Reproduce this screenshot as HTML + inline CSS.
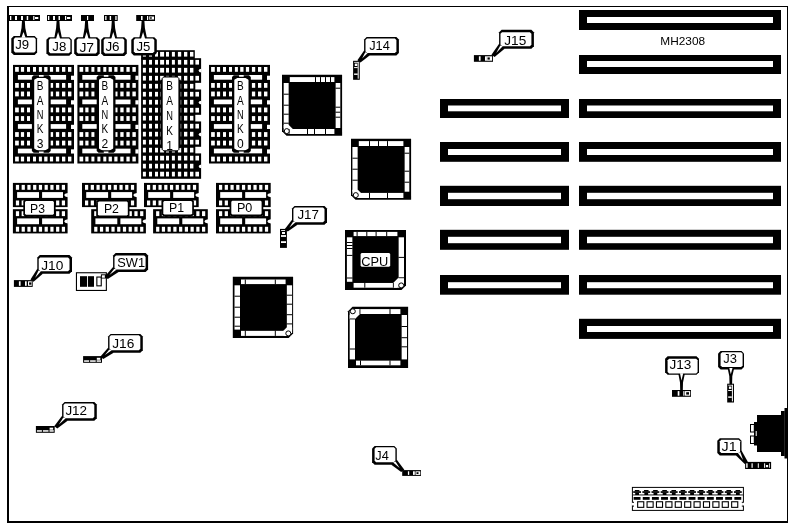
<!DOCTYPE html>
<html lang="en">
<head>
<meta charset="utf-8">
<title>MH2308 motherboard layout</title>
<style>
html,body{margin:0;padding:0;background:#fff;}
body{width:793px;height:527px;overflow:hidden;}
svg{display:block;will-change:transform;}
svg text{font-family:"Liberation Sans",sans-serif;fill:#000;}
</style>
</head>
<body>
<svg width="793" height="527" viewBox="0 0 793 527">
<rect x="0" y="0" width="793" height="527" fill="#fff"/>
<rect x="7" y="6" width="2" height="517" fill="#000"/>
<rect x="7" y="6" width="781" height="1" fill="#000"/>
<rect x="787" y="6" width="1" height="517" fill="#000"/>
<rect x="7" y="521" width="781" height="2" fill="#000"/>
<rect x="579" y="10" width="202" height="20" fill="#000"/>
<rect x="587" y="17" width="186" height="6" fill="#fff"/>
<rect x="579" y="55" width="202" height="19" fill="#000"/>
<rect x="587" y="61" width="186" height="6" fill="#fff"/>
<rect x="579" y="99" width="202" height="19" fill="#000"/>
<rect x="587" y="105.5" width="186" height="5.8" fill="#fff"/>
<rect x="579" y="142" width="202" height="19.8" fill="#000"/>
<rect x="587" y="149" width="186" height="6" fill="#fff"/>
<rect x="579" y="185.8" width="202" height="20.2" fill="#000"/>
<rect x="587" y="192.8" width="186" height="6.4" fill="#fff"/>
<rect x="579" y="229.8" width="202" height="20" fill="#000"/>
<rect x="587" y="236.8" width="186" height="6.4" fill="#fff"/>
<rect x="579" y="275" width="202" height="19.7" fill="#000"/>
<rect x="587" y="282.2" width="186" height="6" fill="#fff"/>
<rect x="579" y="318.8" width="202" height="20.1" fill="#000"/>
<rect x="587" y="326" width="186" height="6" fill="#fff"/>
<rect x="440" y="99" width="129" height="19" fill="#000"/>
<rect x="448" y="105.5" width="113" height="5.8" fill="#fff"/>
<rect x="440" y="142" width="129" height="19.8" fill="#000"/>
<rect x="448" y="149" width="113" height="6" fill="#fff"/>
<rect x="440" y="185.8" width="129" height="20.2" fill="#000"/>
<rect x="448" y="192.8" width="113" height="6.4" fill="#fff"/>
<rect x="440" y="229.8" width="129" height="20" fill="#000"/>
<rect x="448" y="236.8" width="113" height="6.4" fill="#fff"/>
<rect x="440" y="275" width="129" height="19.7" fill="#000"/>
<rect x="448" y="282.2" width="113" height="6" fill="#fff"/>
<rect x="9" y="15" width="31" height="6" fill="#000"/>
<rect x="10" y="16" width="1.3" height="4" fill="#fff"/>
<rect x="15" y="16" width="2" height="4" fill="#fff"/>
<rect x="21" y="16" width="2" height="4" fill="#fff"/>
<rect x="26.7" y="16" width="1.5" height="4" fill="#fff"/>
<rect x="33.2" y="16" width="1.2" height="4" fill="#fff"/>
<rect x="35" y="17" width="3.3" height="2" fill="#fff"/>
<polygon points="13.8,36 34.6,36 37.1,38.5 37.1,52.5 34.6,55 13.8,55 11.3,52.5 11.3,38.5" fill="#000"/>
<polygon points="15.3,37.4 34.2,37.4 35.7,38.9 35.7,51 34.2,52.5 15.3,52.5 13.8,51 13.8,38.9" fill="#fff"/>
<text x="15.3" y="48.9" font-size="13.5" textLength="13.9" lengthAdjust="spacingAndGlyphs">J9</text>
<polygon points="22,21 24.8,21 25.3,28 27.3,36.9 19.7,36.9 21.5,28" fill="#000"/>
<polygon points="23.5,32 25.6,37.7 21.4,37.7" fill="#fff"/>
<rect x="47" y="15" width="25" height="6" fill="#000"/>
<rect x="48" y="16" width="1.3" height="4" fill="#fff"/>
<rect x="53" y="16" width="2" height="4" fill="#fff"/>
<rect x="58.5" y="16" width="1.5" height="4" fill="#fff"/>
<rect x="65" y="16" width="1.2" height="4" fill="#fff"/>
<rect x="67" y="17" width="3.3" height="2" fill="#fff"/>
<polygon points="48.9,37.2 69.3,37.2 71.8,39.7 71.8,53.3 69.3,55.8 48.9,55.8 46.4,53.3 46.4,39.7" fill="#000"/>
<polygon points="50.4,38.6 68.9,38.6 70.4,40.1 70.4,51.8 68.9,53.3 50.4,53.3 48.9,51.8 48.9,40.1" fill="#fff"/>
<text x="52.3" y="50.9" font-size="13.5" textLength="14" lengthAdjust="spacingAndGlyphs">J8</text>
<polygon points="56.6,21 59.4,21 59.9,28 61.9,38.1 54.3,38.1 56.1,28" fill="#000"/>
<polygon points="58.1,32 60.2,38.9 56,38.9" fill="#fff"/>
<rect x="81" y="15" width="13" height="6" fill="#000"/>
<rect x="87" y="16" width="1.2" height="4" fill="#fff"/>
<polygon points="76.7,37.2 97.2,37.2 99.7,39.7 99.7,53.5 97.2,56 76.7,56 74.2,53.5 74.2,39.7" fill="#000"/>
<polygon points="78.2,38.6 95.7,38.6 97.2,40.1 97.2,52 95.7,53.5 78.2,53.5 76.7,52 76.7,40.1" fill="#fff"/>
<text x="79.4" y="51.8" font-size="13.5" textLength="14.7" lengthAdjust="spacingAndGlyphs">J7</text>
<polygon points="85.1,21 87.9,21 88.4,28 90.4,38.1 82.8,38.1 84.6,28" fill="#000"/>
<polygon points="86.6,32 88.7,38.9 84.5,38.9" fill="#fff"/>
<rect x="104" y="15" width="13.7" height="6" fill="#000"/>
<rect x="105.2" y="16" width="1.3" height="4" fill="#fff"/>
<rect x="109.7" y="16" width="1.4" height="4" fill="#fff"/>
<rect x="115.3" y="16" width="1.3" height="4" fill="#fff"/>
<polygon points="103.7,37.2 124.3,37.2 126.8,39.7 126.8,53.5 124.3,56 103.7,56 101.2,53.5 101.2,39.7" fill="#000"/>
<polygon points="105.2,38.6 122.8,38.6 124.3,40.1 124.3,52 122.8,53.5 105.2,53.5 103.7,52 103.7,40.1" fill="#fff"/>
<text x="105.4" y="51" font-size="13.5" textLength="14.2" lengthAdjust="spacingAndGlyphs">J6</text>
<polygon points="111.8,21 114.6,21 115.1,28 117.1,38.1 109.5,38.1 111.3,28" fill="#000"/>
<polygon points="113.3,32 115.4,38.9 111.2,38.9" fill="#fff"/>
<rect x="136.2" y="15" width="18.8" height="6" fill="#000"/>
<rect x="141" y="16" width="1.6" height="4" fill="#fff"/>
<rect x="147" y="16" width="1.1" height="4" fill="#fff"/>
<rect x="148.9" y="16.5" width="5.1" height="3" fill="#fff"/>
<rect x="149.6" y="17.3" width="2.2" height="1.4" fill="#000"/>
<rect x="13" y="64.9" width="61" height="98.6" fill="#000"/>
<rect x="15.1" y="67" width="3.7" height="4.8" fill="#fff"/>
<rect x="20.9" y="67" width="3.2" height="4.8" fill="#fff"/>
<rect x="27" y="67" width="3" height="4.8" fill="#fff"/>
<rect x="33" y="67" width="3" height="4.8" fill="#fff"/>
<rect x="38.9" y="67" width="3" height="4.8" fill="#fff"/>
<rect x="44.2" y="67" width="3.3" height="4.8" fill="#fff"/>
<rect x="49.9" y="67" width="3.2" height="4.8" fill="#fff"/>
<rect x="55.9" y="67" width="3.3" height="4.8" fill="#fff"/>
<rect x="62" y="67" width="3.3" height="4.8" fill="#fff"/>
<rect x="68" y="67" width="3.4" height="4.8" fill="#fff"/>
<rect x="15.1" y="83" width="3.7" height="4.8" fill="#fff"/>
<rect x="20.9" y="83" width="3.2" height="4.8" fill="#fff"/>
<rect x="27" y="83" width="3" height="4.8" fill="#fff"/>
<rect x="33" y="83" width="3" height="4.8" fill="#fff"/>
<rect x="38.9" y="83" width="3" height="4.8" fill="#fff"/>
<rect x="44.2" y="83" width="3.3" height="4.8" fill="#fff"/>
<rect x="49.9" y="83" width="3.2" height="4.8" fill="#fff"/>
<rect x="55.9" y="83" width="3.3" height="4.8" fill="#fff"/>
<rect x="62" y="83" width="3.3" height="4.8" fill="#fff"/>
<rect x="68" y="83" width="3.4" height="4.8" fill="#fff"/>
<rect x="17.9" y="75" width="48.2" height="4.7" fill="#fff"/>
<rect x="71" y="75.7" width="3.2" height="4.2" fill="#fff"/>
<rect x="15.1" y="91.55" width="3.7" height="4.8" fill="#fff"/>
<rect x="20.9" y="91.55" width="3.2" height="4.8" fill="#fff"/>
<rect x="27" y="91.55" width="3" height="4.8" fill="#fff"/>
<rect x="33" y="91.55" width="3" height="4.8" fill="#fff"/>
<rect x="38.9" y="91.55" width="3" height="4.8" fill="#fff"/>
<rect x="44.2" y="91.55" width="3.3" height="4.8" fill="#fff"/>
<rect x="49.9" y="91.55" width="3.2" height="4.8" fill="#fff"/>
<rect x="55.9" y="91.55" width="3.3" height="4.8" fill="#fff"/>
<rect x="62" y="91.55" width="3.3" height="4.8" fill="#fff"/>
<rect x="68" y="91.55" width="3.4" height="4.8" fill="#fff"/>
<rect x="15.1" y="107.55" width="3.7" height="4.8" fill="#fff"/>
<rect x="20.9" y="107.55" width="3.2" height="4.8" fill="#fff"/>
<rect x="27" y="107.55" width="3" height="4.8" fill="#fff"/>
<rect x="33" y="107.55" width="3" height="4.8" fill="#fff"/>
<rect x="38.9" y="107.55" width="3" height="4.8" fill="#fff"/>
<rect x="44.2" y="107.55" width="3.3" height="4.8" fill="#fff"/>
<rect x="49.9" y="107.55" width="3.2" height="4.8" fill="#fff"/>
<rect x="55.9" y="107.55" width="3.3" height="4.8" fill="#fff"/>
<rect x="62" y="107.55" width="3.3" height="4.8" fill="#fff"/>
<rect x="68" y="107.55" width="3.4" height="4.8" fill="#fff"/>
<rect x="17.9" y="99.55" width="48.2" height="4.7" fill="#fff"/>
<rect x="71" y="100.25" width="3.2" height="4.2" fill="#fff"/>
<rect x="15.1" y="116.1" width="3.7" height="4.8" fill="#fff"/>
<rect x="20.9" y="116.1" width="3.2" height="4.8" fill="#fff"/>
<rect x="27" y="116.1" width="3" height="4.8" fill="#fff"/>
<rect x="33" y="116.1" width="3" height="4.8" fill="#fff"/>
<rect x="38.9" y="116.1" width="3" height="4.8" fill="#fff"/>
<rect x="44.2" y="116.1" width="3.3" height="4.8" fill="#fff"/>
<rect x="49.9" y="116.1" width="3.2" height="4.8" fill="#fff"/>
<rect x="55.9" y="116.1" width="3.3" height="4.8" fill="#fff"/>
<rect x="62" y="116.1" width="3.3" height="4.8" fill="#fff"/>
<rect x="68" y="116.1" width="3.4" height="4.8" fill="#fff"/>
<rect x="15.1" y="132.1" width="3.7" height="4.8" fill="#fff"/>
<rect x="20.9" y="132.1" width="3.2" height="4.8" fill="#fff"/>
<rect x="27" y="132.1" width="3" height="4.8" fill="#fff"/>
<rect x="33" y="132.1" width="3" height="4.8" fill="#fff"/>
<rect x="38.9" y="132.1" width="3" height="4.8" fill="#fff"/>
<rect x="44.2" y="132.1" width="3.3" height="4.8" fill="#fff"/>
<rect x="49.9" y="132.1" width="3.2" height="4.8" fill="#fff"/>
<rect x="55.9" y="132.1" width="3.3" height="4.8" fill="#fff"/>
<rect x="62" y="132.1" width="3.3" height="4.8" fill="#fff"/>
<rect x="68" y="132.1" width="3.4" height="4.8" fill="#fff"/>
<rect x="17.9" y="124.1" width="48.2" height="4.7" fill="#fff"/>
<rect x="71" y="124.8" width="3.2" height="4.2" fill="#fff"/>
<rect x="15.1" y="140.65" width="3.7" height="4.8" fill="#fff"/>
<rect x="20.9" y="140.65" width="3.2" height="4.8" fill="#fff"/>
<rect x="27" y="140.65" width="3" height="4.8" fill="#fff"/>
<rect x="33" y="140.65" width="3" height="4.8" fill="#fff"/>
<rect x="38.9" y="140.65" width="3" height="4.8" fill="#fff"/>
<rect x="44.2" y="140.65" width="3.3" height="4.8" fill="#fff"/>
<rect x="49.9" y="140.65" width="3.2" height="4.8" fill="#fff"/>
<rect x="55.9" y="140.65" width="3.3" height="4.8" fill="#fff"/>
<rect x="62" y="140.65" width="3.3" height="4.8" fill="#fff"/>
<rect x="68" y="140.65" width="3.4" height="4.8" fill="#fff"/>
<rect x="15.1" y="156.65" width="3.7" height="4.8" fill="#fff"/>
<rect x="20.9" y="156.65" width="3.2" height="4.8" fill="#fff"/>
<rect x="27" y="156.65" width="3" height="4.8" fill="#fff"/>
<rect x="33" y="156.65" width="3" height="4.8" fill="#fff"/>
<rect x="38.9" y="156.65" width="3" height="4.8" fill="#fff"/>
<rect x="44.2" y="156.65" width="3.3" height="4.8" fill="#fff"/>
<rect x="49.9" y="156.65" width="3.2" height="4.8" fill="#fff"/>
<rect x="55.9" y="156.65" width="3.3" height="4.8" fill="#fff"/>
<rect x="62" y="156.65" width="3.3" height="4.8" fill="#fff"/>
<rect x="68" y="156.65" width="3.4" height="4.8" fill="#fff"/>
<rect x="17.9" y="148.65" width="48.2" height="4.7" fill="#fff"/>
<rect x="71" y="149.35" width="3.2" height="4.2" fill="#fff"/>
<rect x="31.9" y="80.1" width="18.8" height="67.9" fill="#000"/>
<polygon points="35.4,76.7 47.2,76.7 49.4,78.9 49.4,149.2 47.2,151.4 35.4,151.4 33.2,149.2 33.2,78.9" fill="#000"/>
<polygon points="35.2,77.9 47.4,77.9 48.4,78.9 48.4,149.2 47.4,150.2 35.2,150.2 34.2,149.2 34.2,78.9" fill="#fff"/>
<text x="36.8" y="90.2" font-size="12.7" textLength="6.7" lengthAdjust="spacingAndGlyphs">B</text>
<text x="36.8" y="104.6" font-size="12.7" textLength="6.7" lengthAdjust="spacingAndGlyphs">A</text>
<text x="36.8" y="119" font-size="12.7" textLength="6.7" lengthAdjust="spacingAndGlyphs">N</text>
<text x="36.8" y="133.4" font-size="12.7" textLength="6.7" lengthAdjust="spacingAndGlyphs">K</text>
<text x="36.8" y="147.8" font-size="12.7" textLength="6.7" lengthAdjust="spacingAndGlyphs">3</text>
<polygon points="31.9,80.9 31.9,77.1 33.7,75.3 39,75.3 39,76.9" fill="#000"/>
<polygon points="50.7,80.9 50.7,77.1 48.9,75.3 43.6,75.3 43.6,76.9" fill="#000"/>
<polygon points="31.9,147.2 31.9,151 33.7,152.8 39,152.8 39,151.2" fill="#000"/>
<polygon points="50.7,147.2 50.7,151 48.9,152.8 43.6,152.8 43.6,151.2" fill="#000"/>
<rect x="77.4" y="64.9" width="61" height="98.6" fill="#000"/>
<rect x="79.5" y="67" width="3.7" height="4.8" fill="#fff"/>
<rect x="85.3" y="67" width="3.2" height="4.8" fill="#fff"/>
<rect x="91.4" y="67" width="3" height="4.8" fill="#fff"/>
<rect x="97.4" y="67" width="3" height="4.8" fill="#fff"/>
<rect x="103.3" y="67" width="3" height="4.8" fill="#fff"/>
<rect x="108.6" y="67" width="3.3" height="4.8" fill="#fff"/>
<rect x="114.3" y="67" width="3.2" height="4.8" fill="#fff"/>
<rect x="120.3" y="67" width="3.3" height="4.8" fill="#fff"/>
<rect x="126.4" y="67" width="3.3" height="4.8" fill="#fff"/>
<rect x="132.4" y="67" width="3.4" height="4.8" fill="#fff"/>
<rect x="79.5" y="83" width="3.7" height="4.8" fill="#fff"/>
<rect x="85.3" y="83" width="3.2" height="4.8" fill="#fff"/>
<rect x="91.4" y="83" width="3" height="4.8" fill="#fff"/>
<rect x="97.4" y="83" width="3" height="4.8" fill="#fff"/>
<rect x="103.3" y="83" width="3" height="4.8" fill="#fff"/>
<rect x="108.6" y="83" width="3.3" height="4.8" fill="#fff"/>
<rect x="114.3" y="83" width="3.2" height="4.8" fill="#fff"/>
<rect x="120.3" y="83" width="3.3" height="4.8" fill="#fff"/>
<rect x="126.4" y="83" width="3.3" height="4.8" fill="#fff"/>
<rect x="132.4" y="83" width="3.4" height="4.8" fill="#fff"/>
<rect x="82.3" y="75" width="48.2" height="4.7" fill="#fff"/>
<rect x="135.4" y="75.7" width="3.2" height="4.2" fill="#fff"/>
<rect x="79.5" y="91.55" width="3.7" height="4.8" fill="#fff"/>
<rect x="85.3" y="91.55" width="3.2" height="4.8" fill="#fff"/>
<rect x="91.4" y="91.55" width="3" height="4.8" fill="#fff"/>
<rect x="97.4" y="91.55" width="3" height="4.8" fill="#fff"/>
<rect x="103.3" y="91.55" width="3" height="4.8" fill="#fff"/>
<rect x="108.6" y="91.55" width="3.3" height="4.8" fill="#fff"/>
<rect x="114.3" y="91.55" width="3.2" height="4.8" fill="#fff"/>
<rect x="120.3" y="91.55" width="3.3" height="4.8" fill="#fff"/>
<rect x="126.4" y="91.55" width="3.3" height="4.8" fill="#fff"/>
<rect x="132.4" y="91.55" width="3.4" height="4.8" fill="#fff"/>
<rect x="79.5" y="107.55" width="3.7" height="4.8" fill="#fff"/>
<rect x="85.3" y="107.55" width="3.2" height="4.8" fill="#fff"/>
<rect x="91.4" y="107.55" width="3" height="4.8" fill="#fff"/>
<rect x="97.4" y="107.55" width="3" height="4.8" fill="#fff"/>
<rect x="103.3" y="107.55" width="3" height="4.8" fill="#fff"/>
<rect x="108.6" y="107.55" width="3.3" height="4.8" fill="#fff"/>
<rect x="114.3" y="107.55" width="3.2" height="4.8" fill="#fff"/>
<rect x="120.3" y="107.55" width="3.3" height="4.8" fill="#fff"/>
<rect x="126.4" y="107.55" width="3.3" height="4.8" fill="#fff"/>
<rect x="132.4" y="107.55" width="3.4" height="4.8" fill="#fff"/>
<rect x="82.3" y="99.55" width="48.2" height="4.7" fill="#fff"/>
<rect x="135.4" y="100.25" width="3.2" height="4.2" fill="#fff"/>
<rect x="79.5" y="116.1" width="3.7" height="4.8" fill="#fff"/>
<rect x="85.3" y="116.1" width="3.2" height="4.8" fill="#fff"/>
<rect x="91.4" y="116.1" width="3" height="4.8" fill="#fff"/>
<rect x="97.4" y="116.1" width="3" height="4.8" fill="#fff"/>
<rect x="103.3" y="116.1" width="3" height="4.8" fill="#fff"/>
<rect x="108.6" y="116.1" width="3.3" height="4.8" fill="#fff"/>
<rect x="114.3" y="116.1" width="3.2" height="4.8" fill="#fff"/>
<rect x="120.3" y="116.1" width="3.3" height="4.8" fill="#fff"/>
<rect x="126.4" y="116.1" width="3.3" height="4.8" fill="#fff"/>
<rect x="132.4" y="116.1" width="3.4" height="4.8" fill="#fff"/>
<rect x="79.5" y="132.1" width="3.7" height="4.8" fill="#fff"/>
<rect x="85.3" y="132.1" width="3.2" height="4.8" fill="#fff"/>
<rect x="91.4" y="132.1" width="3" height="4.8" fill="#fff"/>
<rect x="97.4" y="132.1" width="3" height="4.8" fill="#fff"/>
<rect x="103.3" y="132.1" width="3" height="4.8" fill="#fff"/>
<rect x="108.6" y="132.1" width="3.3" height="4.8" fill="#fff"/>
<rect x="114.3" y="132.1" width="3.2" height="4.8" fill="#fff"/>
<rect x="120.3" y="132.1" width="3.3" height="4.8" fill="#fff"/>
<rect x="126.4" y="132.1" width="3.3" height="4.8" fill="#fff"/>
<rect x="132.4" y="132.1" width="3.4" height="4.8" fill="#fff"/>
<rect x="82.3" y="124.1" width="48.2" height="4.7" fill="#fff"/>
<rect x="135.4" y="124.8" width="3.2" height="4.2" fill="#fff"/>
<rect x="79.5" y="140.65" width="3.7" height="4.8" fill="#fff"/>
<rect x="85.3" y="140.65" width="3.2" height="4.8" fill="#fff"/>
<rect x="91.4" y="140.65" width="3" height="4.8" fill="#fff"/>
<rect x="97.4" y="140.65" width="3" height="4.8" fill="#fff"/>
<rect x="103.3" y="140.65" width="3" height="4.8" fill="#fff"/>
<rect x="108.6" y="140.65" width="3.3" height="4.8" fill="#fff"/>
<rect x="114.3" y="140.65" width="3.2" height="4.8" fill="#fff"/>
<rect x="120.3" y="140.65" width="3.3" height="4.8" fill="#fff"/>
<rect x="126.4" y="140.65" width="3.3" height="4.8" fill="#fff"/>
<rect x="132.4" y="140.65" width="3.4" height="4.8" fill="#fff"/>
<rect x="79.5" y="156.65" width="3.7" height="4.8" fill="#fff"/>
<rect x="85.3" y="156.65" width="3.2" height="4.8" fill="#fff"/>
<rect x="91.4" y="156.65" width="3" height="4.8" fill="#fff"/>
<rect x="97.4" y="156.65" width="3" height="4.8" fill="#fff"/>
<rect x="103.3" y="156.65" width="3" height="4.8" fill="#fff"/>
<rect x="108.6" y="156.65" width="3.3" height="4.8" fill="#fff"/>
<rect x="114.3" y="156.65" width="3.2" height="4.8" fill="#fff"/>
<rect x="120.3" y="156.65" width="3.3" height="4.8" fill="#fff"/>
<rect x="126.4" y="156.65" width="3.3" height="4.8" fill="#fff"/>
<rect x="132.4" y="156.65" width="3.4" height="4.8" fill="#fff"/>
<rect x="82.3" y="148.65" width="48.2" height="4.7" fill="#fff"/>
<rect x="135.4" y="149.35" width="3.2" height="4.2" fill="#fff"/>
<rect x="96.7" y="80.1" width="18.8" height="67.9" fill="#000"/>
<polygon points="100.2,76.7 112,76.7 114.2,78.9 114.2,149.2 112,151.4 100.2,151.4 98,149.2 98,78.9" fill="#000"/>
<polygon points="100,77.9 112.2,77.9 113.2,78.9 113.2,149.2 112.2,150.2 100,150.2 99,149.2 99,78.9" fill="#fff"/>
<text x="101.6" y="90.2" font-size="12.7" textLength="6.7" lengthAdjust="spacingAndGlyphs">B</text>
<text x="101.6" y="104.6" font-size="12.7" textLength="6.7" lengthAdjust="spacingAndGlyphs">A</text>
<text x="101.6" y="119" font-size="12.7" textLength="6.7" lengthAdjust="spacingAndGlyphs">N</text>
<text x="101.6" y="133.4" font-size="12.7" textLength="6.7" lengthAdjust="spacingAndGlyphs">K</text>
<text x="101.6" y="147.8" font-size="12.7" textLength="6.7" lengthAdjust="spacingAndGlyphs">2</text>
<polygon points="96.7,80.9 96.7,77.1 98.5,75.3 103.8,75.3 103.8,76.9" fill="#000"/>
<polygon points="115.5,80.9 115.5,77.1 113.7,75.3 108.4,75.3 108.4,76.9" fill="#000"/>
<polygon points="96.7,147.2 96.7,151 98.5,152.8 103.8,152.8 103.8,151.2" fill="#000"/>
<polygon points="115.5,147.2 115.5,151 113.7,152.8 108.4,152.8 108.4,151.2" fill="#000"/>
<rect x="209" y="64.9" width="61" height="98.6" fill="#000"/>
<rect x="211.1" y="67" width="3.7" height="4.8" fill="#fff"/>
<rect x="216.9" y="67" width="3.2" height="4.8" fill="#fff"/>
<rect x="223" y="67" width="3" height="4.8" fill="#fff"/>
<rect x="229" y="67" width="3" height="4.8" fill="#fff"/>
<rect x="234.9" y="67" width="3" height="4.8" fill="#fff"/>
<rect x="240.2" y="67" width="3.3" height="4.8" fill="#fff"/>
<rect x="245.9" y="67" width="3.2" height="4.8" fill="#fff"/>
<rect x="251.9" y="67" width="3.3" height="4.8" fill="#fff"/>
<rect x="258" y="67" width="3.3" height="4.8" fill="#fff"/>
<rect x="264" y="67" width="3.4" height="4.8" fill="#fff"/>
<rect x="211.1" y="83" width="3.7" height="4.8" fill="#fff"/>
<rect x="216.9" y="83" width="3.2" height="4.8" fill="#fff"/>
<rect x="223" y="83" width="3" height="4.8" fill="#fff"/>
<rect x="229" y="83" width="3" height="4.8" fill="#fff"/>
<rect x="234.9" y="83" width="3" height="4.8" fill="#fff"/>
<rect x="240.2" y="83" width="3.3" height="4.8" fill="#fff"/>
<rect x="245.9" y="83" width="3.2" height="4.8" fill="#fff"/>
<rect x="251.9" y="83" width="3.3" height="4.8" fill="#fff"/>
<rect x="258" y="83" width="3.3" height="4.8" fill="#fff"/>
<rect x="264" y="83" width="3.4" height="4.8" fill="#fff"/>
<rect x="213.9" y="75" width="48.2" height="4.7" fill="#fff"/>
<rect x="267" y="75.7" width="3.2" height="4.2" fill="#fff"/>
<rect x="211.1" y="91.55" width="3.7" height="4.8" fill="#fff"/>
<rect x="216.9" y="91.55" width="3.2" height="4.8" fill="#fff"/>
<rect x="223" y="91.55" width="3" height="4.8" fill="#fff"/>
<rect x="229" y="91.55" width="3" height="4.8" fill="#fff"/>
<rect x="234.9" y="91.55" width="3" height="4.8" fill="#fff"/>
<rect x="240.2" y="91.55" width="3.3" height="4.8" fill="#fff"/>
<rect x="245.9" y="91.55" width="3.2" height="4.8" fill="#fff"/>
<rect x="251.9" y="91.55" width="3.3" height="4.8" fill="#fff"/>
<rect x="258" y="91.55" width="3.3" height="4.8" fill="#fff"/>
<rect x="264" y="91.55" width="3.4" height="4.8" fill="#fff"/>
<rect x="211.1" y="107.55" width="3.7" height="4.8" fill="#fff"/>
<rect x="216.9" y="107.55" width="3.2" height="4.8" fill="#fff"/>
<rect x="223" y="107.55" width="3" height="4.8" fill="#fff"/>
<rect x="229" y="107.55" width="3" height="4.8" fill="#fff"/>
<rect x="234.9" y="107.55" width="3" height="4.8" fill="#fff"/>
<rect x="240.2" y="107.55" width="3.3" height="4.8" fill="#fff"/>
<rect x="245.9" y="107.55" width="3.2" height="4.8" fill="#fff"/>
<rect x="251.9" y="107.55" width="3.3" height="4.8" fill="#fff"/>
<rect x="258" y="107.55" width="3.3" height="4.8" fill="#fff"/>
<rect x="264" y="107.55" width="3.4" height="4.8" fill="#fff"/>
<rect x="213.9" y="99.55" width="48.2" height="4.7" fill="#fff"/>
<rect x="267" y="100.25" width="3.2" height="4.2" fill="#fff"/>
<rect x="211.1" y="116.1" width="3.7" height="4.8" fill="#fff"/>
<rect x="216.9" y="116.1" width="3.2" height="4.8" fill="#fff"/>
<rect x="223" y="116.1" width="3" height="4.8" fill="#fff"/>
<rect x="229" y="116.1" width="3" height="4.8" fill="#fff"/>
<rect x="234.9" y="116.1" width="3" height="4.8" fill="#fff"/>
<rect x="240.2" y="116.1" width="3.3" height="4.8" fill="#fff"/>
<rect x="245.9" y="116.1" width="3.2" height="4.8" fill="#fff"/>
<rect x="251.9" y="116.1" width="3.3" height="4.8" fill="#fff"/>
<rect x="258" y="116.1" width="3.3" height="4.8" fill="#fff"/>
<rect x="264" y="116.1" width="3.4" height="4.8" fill="#fff"/>
<rect x="211.1" y="132.1" width="3.7" height="4.8" fill="#fff"/>
<rect x="216.9" y="132.1" width="3.2" height="4.8" fill="#fff"/>
<rect x="223" y="132.1" width="3" height="4.8" fill="#fff"/>
<rect x="229" y="132.1" width="3" height="4.8" fill="#fff"/>
<rect x="234.9" y="132.1" width="3" height="4.8" fill="#fff"/>
<rect x="240.2" y="132.1" width="3.3" height="4.8" fill="#fff"/>
<rect x="245.9" y="132.1" width="3.2" height="4.8" fill="#fff"/>
<rect x="251.9" y="132.1" width="3.3" height="4.8" fill="#fff"/>
<rect x="258" y="132.1" width="3.3" height="4.8" fill="#fff"/>
<rect x="264" y="132.1" width="3.4" height="4.8" fill="#fff"/>
<rect x="213.9" y="124.1" width="48.2" height="4.7" fill="#fff"/>
<rect x="267" y="124.8" width="3.2" height="4.2" fill="#fff"/>
<rect x="211.1" y="140.65" width="3.7" height="4.8" fill="#fff"/>
<rect x="216.9" y="140.65" width="3.2" height="4.8" fill="#fff"/>
<rect x="223" y="140.65" width="3" height="4.8" fill="#fff"/>
<rect x="229" y="140.65" width="3" height="4.8" fill="#fff"/>
<rect x="234.9" y="140.65" width="3" height="4.8" fill="#fff"/>
<rect x="240.2" y="140.65" width="3.3" height="4.8" fill="#fff"/>
<rect x="245.9" y="140.65" width="3.2" height="4.8" fill="#fff"/>
<rect x="251.9" y="140.65" width="3.3" height="4.8" fill="#fff"/>
<rect x="258" y="140.65" width="3.3" height="4.8" fill="#fff"/>
<rect x="264" y="140.65" width="3.4" height="4.8" fill="#fff"/>
<rect x="211.1" y="156.65" width="3.7" height="4.8" fill="#fff"/>
<rect x="216.9" y="156.65" width="3.2" height="4.8" fill="#fff"/>
<rect x="223" y="156.65" width="3" height="4.8" fill="#fff"/>
<rect x="229" y="156.65" width="3" height="4.8" fill="#fff"/>
<rect x="234.9" y="156.65" width="3" height="4.8" fill="#fff"/>
<rect x="240.2" y="156.65" width="3.3" height="4.8" fill="#fff"/>
<rect x="245.9" y="156.65" width="3.2" height="4.8" fill="#fff"/>
<rect x="251.9" y="156.65" width="3.3" height="4.8" fill="#fff"/>
<rect x="258" y="156.65" width="3.3" height="4.8" fill="#fff"/>
<rect x="264" y="156.65" width="3.4" height="4.8" fill="#fff"/>
<rect x="213.9" y="148.65" width="48.2" height="4.7" fill="#fff"/>
<rect x="267" y="149.35" width="3.2" height="4.2" fill="#fff"/>
<rect x="232" y="80.1" width="18.8" height="67.9" fill="#000"/>
<polygon points="235.5,76.7 247.3,76.7 249.5,78.9 249.5,149.2 247.3,151.4 235.5,151.4 233.3,149.2 233.3,78.9" fill="#000"/>
<polygon points="235.3,77.9 247.5,77.9 248.5,78.9 248.5,149.2 247.5,150.2 235.3,150.2 234.3,149.2 234.3,78.9" fill="#fff"/>
<text x="236.9" y="90.2" font-size="12.7" textLength="6.7" lengthAdjust="spacingAndGlyphs">B</text>
<text x="236.9" y="104.6" font-size="12.7" textLength="6.7" lengthAdjust="spacingAndGlyphs">A</text>
<text x="236.9" y="119" font-size="12.7" textLength="6.7" lengthAdjust="spacingAndGlyphs">N</text>
<text x="236.9" y="133.4" font-size="12.7" textLength="6.7" lengthAdjust="spacingAndGlyphs">K</text>
<text x="236.9" y="147.8" font-size="12.7" textLength="6.7" lengthAdjust="spacingAndGlyphs">0</text>
<polygon points="232,80.9 232,77.1 233.8,75.3 239.1,75.3 239.1,76.9" fill="#000"/>
<polygon points="250.8,80.9 250.8,77.1 249,75.3 243.7,75.3 243.7,76.9" fill="#000"/>
<polygon points="232,147.2 232,151 233.8,152.8 239.1,152.8 239.1,151.2" fill="#000"/>
<polygon points="250.8,147.2 250.8,151 249,152.8 243.7,152.8 243.7,151.2" fill="#000"/>
<rect x="141.1" y="50.2" width="53.7" height="9" fill="#000"/>
<rect x="141.1" y="58.2" width="60" height="120.6" fill="#000"/>
<rect x="142.9" y="51.9" width="3" height="4.7" fill="#fff"/>
<rect x="149" y="51.9" width="3" height="4.7" fill="#fff"/>
<rect x="155" y="51.9" width="3" height="4.7" fill="#fff"/>
<rect x="160.1" y="51.9" width="4" height="4.7" fill="#fff"/>
<rect x="166" y="51.9" width="3" height="4.7" fill="#fff"/>
<rect x="171.9" y="51.9" width="3" height="4.7" fill="#fff"/>
<rect x="177.9" y="51.9" width="3.3" height="4.7" fill="#fff"/>
<rect x="184" y="51.9" width="3.3" height="4.7" fill="#fff"/>
<rect x="190" y="51.9" width="3.4" height="4.7" fill="#fff"/>
<rect x="142.9" y="59.89" width="3" height="4.7" fill="#fff"/>
<rect x="149" y="59.89" width="3" height="4.7" fill="#fff"/>
<rect x="155" y="59.89" width="3" height="4.7" fill="#fff"/>
<rect x="160.1" y="59.89" width="4" height="4.7" fill="#fff"/>
<rect x="166" y="59.89" width="3" height="4.7" fill="#fff"/>
<rect x="171.9" y="59.89" width="3" height="4.7" fill="#fff"/>
<rect x="177.9" y="59.89" width="3.3" height="4.7" fill="#fff"/>
<rect x="184" y="59.89" width="3.3" height="4.7" fill="#fff"/>
<rect x="190" y="59.89" width="3.4" height="4.7" fill="#fff"/>
<rect x="195.4" y="59.89" width="3.6" height="4.7" fill="#fff"/>
<rect x="142.9" y="67.88" width="3" height="4.7" fill="#fff"/>
<rect x="149" y="67.88" width="3" height="4.7" fill="#fff"/>
<rect x="155" y="67.88" width="3" height="4.7" fill="#fff"/>
<rect x="160.1" y="67.88" width="4" height="4.7" fill="#fff"/>
<rect x="166" y="67.88" width="3" height="4.7" fill="#fff"/>
<rect x="171.9" y="67.88" width="3" height="4.7" fill="#fff"/>
<rect x="177.9" y="67.88" width="3.3" height="4.7" fill="#fff"/>
<rect x="184" y="67.88" width="3.3" height="4.7" fill="#fff"/>
<rect x="190" y="67.88" width="3.4" height="4.7" fill="#fff"/>
<polygon points="201.3,68.68 199.3,69.28 198.7,70.48 199.3,71.88 201.3,72.48" fill="#fff"/>
<rect x="142.9" y="75.87" width="3" height="4.7" fill="#fff"/>
<rect x="149" y="75.87" width="3" height="4.7" fill="#fff"/>
<rect x="155" y="75.87" width="3" height="4.7" fill="#fff"/>
<rect x="160.1" y="75.87" width="4" height="4.7" fill="#fff"/>
<rect x="166" y="75.87" width="3" height="4.7" fill="#fff"/>
<rect x="171.9" y="75.87" width="3" height="4.7" fill="#fff"/>
<rect x="177.9" y="75.87" width="3.3" height="4.7" fill="#fff"/>
<rect x="184" y="75.87" width="3.3" height="4.7" fill="#fff"/>
<rect x="190" y="75.87" width="3.4" height="4.7" fill="#fff"/>
<rect x="195.4" y="75.87" width="3.6" height="4.7" fill="#fff"/>
<rect x="142.9" y="83.86" width="3" height="4.7" fill="#fff"/>
<rect x="149" y="83.86" width="3" height="4.7" fill="#fff"/>
<rect x="155" y="83.86" width="3" height="4.7" fill="#fff"/>
<rect x="160.1" y="83.86" width="4" height="4.7" fill="#fff"/>
<rect x="166" y="83.86" width="3" height="4.7" fill="#fff"/>
<rect x="171.9" y="83.86" width="3" height="4.7" fill="#fff"/>
<rect x="177.9" y="83.86" width="3.3" height="4.7" fill="#fff"/>
<rect x="184" y="83.86" width="3.3" height="4.7" fill="#fff"/>
<rect x="190" y="83.86" width="3.4" height="4.7" fill="#fff"/>
<rect x="195.3" y="82.86" width="7" height="6.6" fill="#fff"/>
<rect x="142.9" y="91.85" width="3" height="4.7" fill="#fff"/>
<rect x="149" y="91.85" width="3" height="4.7" fill="#fff"/>
<rect x="155" y="91.85" width="3" height="4.7" fill="#fff"/>
<rect x="160.1" y="91.85" width="4" height="4.7" fill="#fff"/>
<rect x="166" y="91.85" width="3" height="4.7" fill="#fff"/>
<rect x="171.9" y="91.85" width="3" height="4.7" fill="#fff"/>
<rect x="177.9" y="91.85" width="3.3" height="4.7" fill="#fff"/>
<rect x="184" y="91.85" width="3.3" height="4.7" fill="#fff"/>
<rect x="190" y="91.85" width="3.4" height="4.7" fill="#fff"/>
<rect x="195.4" y="91.85" width="3.6" height="4.7" fill="#fff"/>
<rect x="142.9" y="99.84" width="3" height="4.7" fill="#fff"/>
<rect x="149" y="99.84" width="3" height="4.7" fill="#fff"/>
<rect x="155" y="99.84" width="3" height="4.7" fill="#fff"/>
<rect x="160.1" y="99.84" width="4" height="4.7" fill="#fff"/>
<rect x="166" y="99.84" width="3" height="4.7" fill="#fff"/>
<rect x="171.9" y="99.84" width="3" height="4.7" fill="#fff"/>
<rect x="177.9" y="99.84" width="3.3" height="4.7" fill="#fff"/>
<rect x="184" y="99.84" width="3.3" height="4.7" fill="#fff"/>
<rect x="190" y="99.84" width="3.4" height="4.7" fill="#fff"/>
<polygon points="201.3,100.64 199.3,101.24 198.7,102.44 199.3,103.84 201.3,104.44" fill="#fff"/>
<rect x="142.9" y="107.83" width="3" height="4.7" fill="#fff"/>
<rect x="149" y="107.83" width="3" height="4.7" fill="#fff"/>
<rect x="155" y="107.83" width="3" height="4.7" fill="#fff"/>
<rect x="160.1" y="107.83" width="4" height="4.7" fill="#fff"/>
<rect x="166" y="107.83" width="3" height="4.7" fill="#fff"/>
<rect x="171.9" y="107.83" width="3" height="4.7" fill="#fff"/>
<rect x="177.9" y="107.83" width="3.3" height="4.7" fill="#fff"/>
<rect x="184" y="107.83" width="3.3" height="4.7" fill="#fff"/>
<rect x="190" y="107.83" width="3.4" height="4.7" fill="#fff"/>
<rect x="195.4" y="107.83" width="3.6" height="4.7" fill="#fff"/>
<rect x="142.9" y="115.82" width="3" height="4.7" fill="#fff"/>
<rect x="149" y="115.82" width="3" height="4.7" fill="#fff"/>
<rect x="155" y="115.82" width="3" height="4.7" fill="#fff"/>
<rect x="160.1" y="115.82" width="4" height="4.7" fill="#fff"/>
<rect x="166" y="115.82" width="3" height="4.7" fill="#fff"/>
<rect x="171.9" y="115.82" width="3" height="4.7" fill="#fff"/>
<rect x="177.9" y="115.82" width="3.3" height="4.7" fill="#fff"/>
<rect x="184" y="115.82" width="3.3" height="4.7" fill="#fff"/>
<rect x="190" y="115.82" width="3.4" height="4.7" fill="#fff"/>
<rect x="195.3" y="114.82" width="7" height="6.6" fill="#fff"/>
<rect x="142.9" y="123.81" width="3" height="4.7" fill="#fff"/>
<rect x="149" y="123.81" width="3" height="4.7" fill="#fff"/>
<rect x="155" y="123.81" width="3" height="4.7" fill="#fff"/>
<rect x="160.1" y="123.81" width="4" height="4.7" fill="#fff"/>
<rect x="166" y="123.81" width="3" height="4.7" fill="#fff"/>
<rect x="171.9" y="123.81" width="3" height="4.7" fill="#fff"/>
<rect x="177.9" y="123.81" width="3.3" height="4.7" fill="#fff"/>
<rect x="184" y="123.81" width="3.3" height="4.7" fill="#fff"/>
<rect x="190" y="123.81" width="3.4" height="4.7" fill="#fff"/>
<rect x="195.4" y="123.81" width="3.6" height="4.7" fill="#fff"/>
<rect x="142.9" y="131.8" width="3" height="4.7" fill="#fff"/>
<rect x="149" y="131.8" width="3" height="4.7" fill="#fff"/>
<rect x="155" y="131.8" width="3" height="4.7" fill="#fff"/>
<rect x="160.1" y="131.8" width="4" height="4.7" fill="#fff"/>
<rect x="166" y="131.8" width="3" height="4.7" fill="#fff"/>
<rect x="171.9" y="131.8" width="3" height="4.7" fill="#fff"/>
<rect x="177.9" y="131.8" width="3.3" height="4.7" fill="#fff"/>
<rect x="184" y="131.8" width="3.3" height="4.7" fill="#fff"/>
<rect x="190" y="131.8" width="3.4" height="4.7" fill="#fff"/>
<polygon points="201.3,132.6 199.3,133.2 198.7,134.4 199.3,135.8 201.3,136.4" fill="#fff"/>
<rect x="142.9" y="139.79" width="3" height="4.7" fill="#fff"/>
<rect x="149" y="139.79" width="3" height="4.7" fill="#fff"/>
<rect x="155" y="139.79" width="3" height="4.7" fill="#fff"/>
<rect x="160.1" y="139.79" width="4" height="4.7" fill="#fff"/>
<rect x="166" y="139.79" width="3" height="4.7" fill="#fff"/>
<rect x="171.9" y="139.79" width="3" height="4.7" fill="#fff"/>
<rect x="177.9" y="139.79" width="3.3" height="4.7" fill="#fff"/>
<rect x="184" y="139.79" width="3.3" height="4.7" fill="#fff"/>
<rect x="190" y="139.79" width="3.4" height="4.7" fill="#fff"/>
<rect x="195.4" y="139.79" width="3.6" height="4.7" fill="#fff"/>
<rect x="142.9" y="147.78" width="3" height="4.7" fill="#fff"/>
<rect x="149" y="147.78" width="3" height="4.7" fill="#fff"/>
<rect x="155" y="147.78" width="3" height="4.7" fill="#fff"/>
<rect x="160.1" y="147.78" width="4" height="4.7" fill="#fff"/>
<rect x="166" y="147.78" width="3" height="4.7" fill="#fff"/>
<rect x="171.9" y="147.78" width="3" height="4.7" fill="#fff"/>
<rect x="177.9" y="147.78" width="3.3" height="4.7" fill="#fff"/>
<rect x="184" y="147.78" width="3.3" height="4.7" fill="#fff"/>
<rect x="190" y="147.78" width="3.4" height="4.7" fill="#fff"/>
<rect x="195.3" y="146.78" width="7" height="6.6" fill="#fff"/>
<rect x="142.9" y="155.77" width="3" height="4.7" fill="#fff"/>
<rect x="149" y="155.77" width="3" height="4.7" fill="#fff"/>
<rect x="155" y="155.77" width="3" height="4.7" fill="#fff"/>
<rect x="160.1" y="155.77" width="4" height="4.7" fill="#fff"/>
<rect x="166" y="155.77" width="3" height="4.7" fill="#fff"/>
<rect x="171.9" y="155.77" width="3" height="4.7" fill="#fff"/>
<rect x="177.9" y="155.77" width="3.3" height="4.7" fill="#fff"/>
<rect x="184" y="155.77" width="3.3" height="4.7" fill="#fff"/>
<rect x="190" y="155.77" width="3.4" height="4.7" fill="#fff"/>
<rect x="195.4" y="155.77" width="3.6" height="4.7" fill="#fff"/>
<rect x="142.9" y="163.76" width="3" height="4.7" fill="#fff"/>
<rect x="149" y="163.76" width="3" height="4.7" fill="#fff"/>
<rect x="155" y="163.76" width="3" height="4.7" fill="#fff"/>
<rect x="160.1" y="163.76" width="4" height="4.7" fill="#fff"/>
<rect x="166" y="163.76" width="3" height="4.7" fill="#fff"/>
<rect x="171.9" y="163.76" width="3" height="4.7" fill="#fff"/>
<rect x="177.9" y="163.76" width="3.3" height="4.7" fill="#fff"/>
<rect x="184" y="163.76" width="3.3" height="4.7" fill="#fff"/>
<rect x="190" y="163.76" width="3.4" height="4.7" fill="#fff"/>
<polygon points="201.3,164.56 199.3,165.16 198.7,166.36 199.3,167.76 201.3,168.36" fill="#fff"/>
<rect x="142.9" y="171.75" width="3" height="4.7" fill="#fff"/>
<rect x="149" y="171.75" width="3" height="4.7" fill="#fff"/>
<rect x="155" y="171.75" width="3" height="4.7" fill="#fff"/>
<rect x="160.1" y="171.75" width="4" height="4.7" fill="#fff"/>
<rect x="166" y="171.75" width="3" height="4.7" fill="#fff"/>
<rect x="171.9" y="171.75" width="3" height="4.7" fill="#fff"/>
<rect x="177.9" y="171.75" width="3.3" height="4.7" fill="#fff"/>
<rect x="184" y="171.75" width="3.3" height="4.7" fill="#fff"/>
<rect x="190" y="171.75" width="3.4" height="4.7" fill="#fff"/>
<rect x="195.4" y="171.75" width="3.6" height="4.7" fill="#fff"/>
<rect x="160.4" y="79.7" width="20.3" height="68.4" fill="#000"/>
<polygon points="163.9,76.3 177.2,76.3 179.4,78.5 179.4,149.3 177.2,151.5 163.9,151.5 161.7,149.3 161.7,78.5" fill="#000"/>
<polygon points="163.7,77.5 177.4,77.5 178.4,78.5 178.4,149.3 177.4,150.3 163.7,150.3 162.7,149.3 162.7,78.5" fill="#fff"/>
<text x="166.35" y="90.4" font-size="12.7" textLength="6.7" lengthAdjust="spacingAndGlyphs">B</text>
<text x="166.35" y="105.25" font-size="12.7" textLength="6.7" lengthAdjust="spacingAndGlyphs">A</text>
<text x="166.35" y="120.1" font-size="12.7" textLength="6.7" lengthAdjust="spacingAndGlyphs">N</text>
<text x="166.35" y="134.95" font-size="12.7" textLength="6.7" lengthAdjust="spacingAndGlyphs">K</text>
<text x="166.35" y="149.8" font-size="12.7" textLength="6.7" lengthAdjust="spacingAndGlyphs">1</text>
<polygon points="133.8,37.2 154.3,37.2 156.8,39.7 156.8,53.1 154.3,55.6 133.8,55.6 131.3,53.1 131.3,39.7" fill="#000"/>
<polygon points="135.3,38.6 152.8,38.6 154.3,40.1 154.3,51.6 152.8,53.1 135.3,53.1 133.8,51.6 133.8,40.1" fill="#fff"/>
<text x="136.4" y="50.9" font-size="13.5" textLength="13.9" lengthAdjust="spacingAndGlyphs">J5</text>
<polygon points="141.6,21 144.4,21 144.9,28 146.9,38.1 139.3,38.1 141.1,28" fill="#000"/>
<polygon points="143.1,32 145.2,38.9 141,38.9" fill="#fff"/>
<rect x="12.9" y="182.9" width="54.7" height="24.2" fill="#000"/>
<rect x="15.9" y="184.9" width="3.2" height="4.9" fill="#fff"/>
<rect x="15.9" y="200.5" width="3.2" height="4.9" fill="#fff"/>
<rect x="21.64" y="184.9" width="3.2" height="4.9" fill="#fff"/>
<rect x="21.64" y="200.5" width="3.2" height="4.9" fill="#fff"/>
<rect x="27.38" y="184.9" width="3.2" height="4.9" fill="#fff"/>
<rect x="27.38" y="200.5" width="3.2" height="4.9" fill="#fff"/>
<rect x="33.12" y="184.9" width="3.2" height="4.9" fill="#fff"/>
<rect x="33.12" y="200.5" width="3.2" height="4.9" fill="#fff"/>
<rect x="38.86" y="184.9" width="3.2" height="4.9" fill="#fff"/>
<rect x="38.86" y="200.5" width="3.2" height="4.9" fill="#fff"/>
<rect x="44.6" y="184.9" width="3.2" height="4.9" fill="#fff"/>
<rect x="44.6" y="200.5" width="3.2" height="4.9" fill="#fff"/>
<rect x="50.34" y="184.9" width="3.2" height="4.9" fill="#fff"/>
<rect x="50.34" y="200.5" width="3.2" height="4.9" fill="#fff"/>
<rect x="56.08" y="184.9" width="3.2" height="4.9" fill="#fff"/>
<rect x="56.08" y="200.5" width="3.2" height="4.9" fill="#fff"/>
<rect x="61.82" y="184.9" width="3.2" height="4.9" fill="#fff"/>
<rect x="61.82" y="200.5" width="3.2" height="4.9" fill="#fff"/>
<rect x="17.1" y="192.1" width="21.9" height="5.8" fill="#fff"/>
<rect x="42.1" y="192.1" width="20.9" height="5.8" fill="#fff"/>
<polygon points="67.9,192.9 65.2,193.7 64.2,195 65.2,196.5 67.9,197.3" fill="#fff"/>
<rect x="12.9" y="209.2" width="54.7" height="24.2" fill="#000"/>
<rect x="15.9" y="211.2" width="3.2" height="4.9" fill="#fff"/>
<rect x="15.9" y="226.8" width="3.2" height="4.9" fill="#fff"/>
<rect x="21.64" y="211.2" width="3.2" height="4.9" fill="#fff"/>
<rect x="21.64" y="226.8" width="3.2" height="4.9" fill="#fff"/>
<rect x="27.38" y="211.2" width="3.2" height="4.9" fill="#fff"/>
<rect x="27.38" y="226.8" width="3.2" height="4.9" fill="#fff"/>
<rect x="33.12" y="211.2" width="3.2" height="4.9" fill="#fff"/>
<rect x="33.12" y="226.8" width="3.2" height="4.9" fill="#fff"/>
<rect x="38.86" y="211.2" width="3.2" height="4.9" fill="#fff"/>
<rect x="38.86" y="226.8" width="3.2" height="4.9" fill="#fff"/>
<rect x="44.6" y="211.2" width="3.2" height="4.9" fill="#fff"/>
<rect x="44.6" y="226.8" width="3.2" height="4.9" fill="#fff"/>
<rect x="50.34" y="211.2" width="3.2" height="4.9" fill="#fff"/>
<rect x="50.34" y="226.8" width="3.2" height="4.9" fill="#fff"/>
<rect x="56.08" y="211.2" width="3.2" height="4.9" fill="#fff"/>
<rect x="56.08" y="226.8" width="3.2" height="4.9" fill="#fff"/>
<rect x="61.82" y="211.2" width="3.2" height="4.9" fill="#fff"/>
<rect x="61.82" y="226.8" width="3.2" height="4.9" fill="#fff"/>
<rect x="17.1" y="218.4" width="21.9" height="5.8" fill="#fff"/>
<rect x="42.1" y="218.4" width="20.9" height="5.8" fill="#fff"/>
<polygon points="67.9,219.2 65.2,220 64.2,221.3 65.2,222.8 67.9,223.6" fill="#fff"/>
<polygon points="24.8,199.4 54.1,199.4 55.6,201 55.6,214.7 54.1,216.4 24.8,216.4 23.3,214.7 23.3,201" fill="#000"/>
<polygon points="26,201 52.9,201 53.9,202 53.9,213.7 52.9,214.7 26,214.7 25,213.7 25,202" fill="#fff"/>
<text x="30.1" y="212.8" font-size="13.2" textLength="14.9" lengthAdjust="spacingAndGlyphs">P3</text>
<rect x="82" y="182.9" width="54.7" height="24.2" fill="#000"/>
<rect x="85" y="184.9" width="3.2" height="4.9" fill="#fff"/>
<rect x="85" y="200.5" width="3.2" height="4.9" fill="#fff"/>
<rect x="90.74" y="184.9" width="3.2" height="4.9" fill="#fff"/>
<rect x="90.74" y="200.5" width="3.2" height="4.9" fill="#fff"/>
<rect x="96.48" y="184.9" width="3.2" height="4.9" fill="#fff"/>
<rect x="96.48" y="200.5" width="3.2" height="4.9" fill="#fff"/>
<rect x="102.22" y="184.9" width="3.2" height="4.9" fill="#fff"/>
<rect x="102.22" y="200.5" width="3.2" height="4.9" fill="#fff"/>
<rect x="107.96" y="184.9" width="3.2" height="4.9" fill="#fff"/>
<rect x="107.96" y="200.5" width="3.2" height="4.9" fill="#fff"/>
<rect x="113.7" y="184.9" width="3.2" height="4.9" fill="#fff"/>
<rect x="113.7" y="200.5" width="3.2" height="4.9" fill="#fff"/>
<rect x="119.44" y="184.9" width="3.2" height="4.9" fill="#fff"/>
<rect x="119.44" y="200.5" width="3.2" height="4.9" fill="#fff"/>
<rect x="125.18" y="184.9" width="3.2" height="4.9" fill="#fff"/>
<rect x="125.18" y="200.5" width="3.2" height="4.9" fill="#fff"/>
<rect x="130.92" y="184.9" width="3.2" height="4.9" fill="#fff"/>
<rect x="130.92" y="200.5" width="3.2" height="4.9" fill="#fff"/>
<rect x="86.2" y="192.1" width="21.9" height="5.8" fill="#fff"/>
<rect x="111.2" y="192.1" width="20.9" height="5.8" fill="#fff"/>
<polygon points="137,192.9 134.3,193.7 133.3,195 134.3,196.5 137,197.3" fill="#fff"/>
<rect x="91.2" y="209.2" width="54.7" height="24.2" fill="#000"/>
<rect x="94.2" y="211.2" width="3.2" height="4.9" fill="#fff"/>
<rect x="94.2" y="226.8" width="3.2" height="4.9" fill="#fff"/>
<rect x="99.94" y="211.2" width="3.2" height="4.9" fill="#fff"/>
<rect x="99.94" y="226.8" width="3.2" height="4.9" fill="#fff"/>
<rect x="105.68" y="211.2" width="3.2" height="4.9" fill="#fff"/>
<rect x="105.68" y="226.8" width="3.2" height="4.9" fill="#fff"/>
<rect x="111.42" y="211.2" width="3.2" height="4.9" fill="#fff"/>
<rect x="111.42" y="226.8" width="3.2" height="4.9" fill="#fff"/>
<rect x="117.16" y="211.2" width="3.2" height="4.9" fill="#fff"/>
<rect x="117.16" y="226.8" width="3.2" height="4.9" fill="#fff"/>
<rect x="122.9" y="211.2" width="3.2" height="4.9" fill="#fff"/>
<rect x="122.9" y="226.8" width="3.2" height="4.9" fill="#fff"/>
<rect x="128.64" y="211.2" width="3.2" height="4.9" fill="#fff"/>
<rect x="128.64" y="226.8" width="3.2" height="4.9" fill="#fff"/>
<rect x="134.38" y="211.2" width="3.2" height="4.9" fill="#fff"/>
<rect x="134.38" y="226.8" width="3.2" height="4.9" fill="#fff"/>
<rect x="140.12" y="211.2" width="3.2" height="4.9" fill="#fff"/>
<rect x="140.12" y="226.8" width="3.2" height="4.9" fill="#fff"/>
<rect x="95.4" y="218.4" width="21.9" height="5.8" fill="#fff"/>
<rect x="120.4" y="218.4" width="20.9" height="5.8" fill="#fff"/>
<polygon points="146.2,219.2 143.5,220 142.5,221.3 143.5,222.8 146.2,223.6" fill="#fff"/>
<polygon points="97.7,199.9 128,199.9 129.5,201.5 129.5,215.5 128,217.2 97.7,217.2 96.2,215.5 96.2,201.5" fill="#000"/>
<polygon points="98.9,201.5 126.8,201.5 127.8,202.5 127.8,214.5 126.8,215.5 98.9,215.5 97.9,214.5 97.9,202.5" fill="#fff"/>
<text x="103.9" y="213.2" font-size="13.2" textLength="15.1" lengthAdjust="spacingAndGlyphs">P2</text>
<rect x="144" y="182.9" width="54.7" height="24.2" fill="#000"/>
<rect x="147" y="184.9" width="3.2" height="4.9" fill="#fff"/>
<rect x="147" y="200.5" width="3.2" height="4.9" fill="#fff"/>
<rect x="152.74" y="184.9" width="3.2" height="4.9" fill="#fff"/>
<rect x="152.74" y="200.5" width="3.2" height="4.9" fill="#fff"/>
<rect x="158.48" y="184.9" width="3.2" height="4.9" fill="#fff"/>
<rect x="158.48" y="200.5" width="3.2" height="4.9" fill="#fff"/>
<rect x="164.22" y="184.9" width="3.2" height="4.9" fill="#fff"/>
<rect x="164.22" y="200.5" width="3.2" height="4.9" fill="#fff"/>
<rect x="169.96" y="184.9" width="3.2" height="4.9" fill="#fff"/>
<rect x="169.96" y="200.5" width="3.2" height="4.9" fill="#fff"/>
<rect x="175.7" y="184.9" width="3.2" height="4.9" fill="#fff"/>
<rect x="175.7" y="200.5" width="3.2" height="4.9" fill="#fff"/>
<rect x="181.44" y="184.9" width="3.2" height="4.9" fill="#fff"/>
<rect x="181.44" y="200.5" width="3.2" height="4.9" fill="#fff"/>
<rect x="187.18" y="184.9" width="3.2" height="4.9" fill="#fff"/>
<rect x="187.18" y="200.5" width="3.2" height="4.9" fill="#fff"/>
<rect x="192.92" y="184.9" width="3.2" height="4.9" fill="#fff"/>
<rect x="192.92" y="200.5" width="3.2" height="4.9" fill="#fff"/>
<rect x="148.2" y="192.1" width="21.9" height="5.8" fill="#fff"/>
<rect x="173.2" y="192.1" width="20.9" height="5.8" fill="#fff"/>
<polygon points="199,192.9 196.3,193.7 195.3,195 196.3,196.5 199,197.3" fill="#fff"/>
<rect x="153.1" y="209.2" width="54.7" height="24.2" fill="#000"/>
<rect x="156.1" y="211.2" width="3.2" height="4.9" fill="#fff"/>
<rect x="156.1" y="226.8" width="3.2" height="4.9" fill="#fff"/>
<rect x="161.84" y="211.2" width="3.2" height="4.9" fill="#fff"/>
<rect x="161.84" y="226.8" width="3.2" height="4.9" fill="#fff"/>
<rect x="167.58" y="211.2" width="3.2" height="4.9" fill="#fff"/>
<rect x="167.58" y="226.8" width="3.2" height="4.9" fill="#fff"/>
<rect x="173.32" y="211.2" width="3.2" height="4.9" fill="#fff"/>
<rect x="173.32" y="226.8" width="3.2" height="4.9" fill="#fff"/>
<rect x="179.06" y="211.2" width="3.2" height="4.9" fill="#fff"/>
<rect x="179.06" y="226.8" width="3.2" height="4.9" fill="#fff"/>
<rect x="184.8" y="211.2" width="3.2" height="4.9" fill="#fff"/>
<rect x="184.8" y="226.8" width="3.2" height="4.9" fill="#fff"/>
<rect x="190.54" y="211.2" width="3.2" height="4.9" fill="#fff"/>
<rect x="190.54" y="226.8" width="3.2" height="4.9" fill="#fff"/>
<rect x="196.28" y="211.2" width="3.2" height="4.9" fill="#fff"/>
<rect x="196.28" y="226.8" width="3.2" height="4.9" fill="#fff"/>
<rect x="202.02" y="211.2" width="3.2" height="4.9" fill="#fff"/>
<rect x="202.02" y="226.8" width="3.2" height="4.9" fill="#fff"/>
<rect x="157.3" y="218.4" width="21.9" height="5.8" fill="#fff"/>
<rect x="182.3" y="218.4" width="20.9" height="5.8" fill="#fff"/>
<polygon points="208.1,219.2 205.4,220 204.4,221.3 205.4,222.8 208.1,223.6" fill="#fff"/>
<polygon points="163.1,199.4 192.4,199.4 193.9,201 193.9,214.4 192.4,216.1 163.1,216.1 161.6,214.4 161.6,201" fill="#000"/>
<polygon points="164.3,201 191.2,201 192.2,202 192.2,213.4 191.2,214.4 164.3,214.4 163.3,213.4 163.3,202" fill="#fff"/>
<text x="169" y="212.1" font-size="13.2" textLength="15.1" lengthAdjust="spacingAndGlyphs">P1</text>
<rect x="216" y="182.9" width="54.7" height="24.2" fill="#000"/>
<rect x="219" y="184.9" width="3.2" height="4.9" fill="#fff"/>
<rect x="219" y="200.5" width="3.2" height="4.9" fill="#fff"/>
<rect x="224.74" y="184.9" width="3.2" height="4.9" fill="#fff"/>
<rect x="224.74" y="200.5" width="3.2" height="4.9" fill="#fff"/>
<rect x="230.48" y="184.9" width="3.2" height="4.9" fill="#fff"/>
<rect x="230.48" y="200.5" width="3.2" height="4.9" fill="#fff"/>
<rect x="236.22" y="184.9" width="3.2" height="4.9" fill="#fff"/>
<rect x="236.22" y="200.5" width="3.2" height="4.9" fill="#fff"/>
<rect x="241.96" y="184.9" width="3.2" height="4.9" fill="#fff"/>
<rect x="241.96" y="200.5" width="3.2" height="4.9" fill="#fff"/>
<rect x="247.7" y="184.9" width="3.2" height="4.9" fill="#fff"/>
<rect x="247.7" y="200.5" width="3.2" height="4.9" fill="#fff"/>
<rect x="253.44" y="184.9" width="3.2" height="4.9" fill="#fff"/>
<rect x="253.44" y="200.5" width="3.2" height="4.9" fill="#fff"/>
<rect x="259.18" y="184.9" width="3.2" height="4.9" fill="#fff"/>
<rect x="259.18" y="200.5" width="3.2" height="4.9" fill="#fff"/>
<rect x="264.92" y="184.9" width="3.2" height="4.9" fill="#fff"/>
<rect x="264.92" y="200.5" width="3.2" height="4.9" fill="#fff"/>
<rect x="220.2" y="192.1" width="21.9" height="5.8" fill="#fff"/>
<rect x="245.2" y="192.1" width="20.9" height="5.8" fill="#fff"/>
<polygon points="271,192.9 268.3,193.7 267.3,195 268.3,196.5 271,197.3" fill="#fff"/>
<rect x="216" y="209.2" width="54.7" height="24.2" fill="#000"/>
<rect x="219" y="211.2" width="3.2" height="4.9" fill="#fff"/>
<rect x="219" y="226.8" width="3.2" height="4.9" fill="#fff"/>
<rect x="224.74" y="211.2" width="3.2" height="4.9" fill="#fff"/>
<rect x="224.74" y="226.8" width="3.2" height="4.9" fill="#fff"/>
<rect x="230.48" y="211.2" width="3.2" height="4.9" fill="#fff"/>
<rect x="230.48" y="226.8" width="3.2" height="4.9" fill="#fff"/>
<rect x="236.22" y="211.2" width="3.2" height="4.9" fill="#fff"/>
<rect x="236.22" y="226.8" width="3.2" height="4.9" fill="#fff"/>
<rect x="241.96" y="211.2" width="3.2" height="4.9" fill="#fff"/>
<rect x="241.96" y="226.8" width="3.2" height="4.9" fill="#fff"/>
<rect x="247.7" y="211.2" width="3.2" height="4.9" fill="#fff"/>
<rect x="247.7" y="226.8" width="3.2" height="4.9" fill="#fff"/>
<rect x="253.44" y="211.2" width="3.2" height="4.9" fill="#fff"/>
<rect x="253.44" y="226.8" width="3.2" height="4.9" fill="#fff"/>
<rect x="259.18" y="211.2" width="3.2" height="4.9" fill="#fff"/>
<rect x="259.18" y="226.8" width="3.2" height="4.9" fill="#fff"/>
<rect x="264.92" y="211.2" width="3.2" height="4.9" fill="#fff"/>
<rect x="264.92" y="226.8" width="3.2" height="4.9" fill="#fff"/>
<rect x="220.2" y="218.4" width="21.9" height="5.8" fill="#fff"/>
<rect x="245.2" y="218.4" width="20.9" height="5.8" fill="#fff"/>
<polygon points="271,219.2 268.3,220 267.3,221.3 268.3,222.8 271,223.6" fill="#fff"/>
<polygon points="231.1,199.2 261.8,199.2 263.3,200.8 263.3,214.5 261.8,216.2 231.1,216.2 229.6,214.5 229.6,200.8" fill="#000"/>
<polygon points="232.3,200.8 260.6,200.8 261.6,201.8 261.6,213.5 260.6,214.5 232.3,214.5 231.3,213.5 231.3,201.8" fill="#fff"/>
<text x="236.9" y="212.3" font-size="13.2" textLength="15.4" lengthAdjust="spacingAndGlyphs">P0</text>
<polygon points="282,74.7 342.1,74.7 342.1,135.7 286.5,135.7 282,131.2" fill="#000"/>
<rect x="289.8" y="77.1" width="44.6" height="4.9" fill="#fff"/>
<rect x="289.8" y="129" width="44.6" height="5" fill="#fff"/>
<rect x="283.7" y="83" width="5.1" height="45" fill="#fff"/>
<rect x="335.4" y="83" width="4.9" height="45" fill="#fff"/>
<rect x="288.8" y="82" width="46.6" height="47" fill="#000"/>
<rect x="315" y="77.1" width="1" height="4.9" fill="#000"/>
<rect x="320" y="77.1" width="1" height="4.9" fill="#000"/>
<rect x="325" y="77.1" width="1" height="4.9" fill="#000"/>
<rect x="330" y="77.1" width="1" height="4.9" fill="#000"/>
<rect x="307" y="129" width="1" height="5" fill="#000"/>
<rect x="314" y="129" width="1" height="5" fill="#000"/>
<rect x="325" y="129" width="1" height="5" fill="#000"/>
<rect x="283.7" y="93.7" width="5.1" height="1" fill="#000"/>
<rect x="283.7" y="104.7" width="5.1" height="1" fill="#000"/>
<rect x="283.7" y="113.7" width="5.1" height="1" fill="#000"/>
<rect x="283.7" y="122.7" width="5.1" height="1" fill="#000"/>
<rect x="335.4" y="87.7" width="4.9" height="1" fill="#000"/>
<rect x="335.4" y="106.7" width="4.9" height="1" fill="#000"/>
<rect x="335.4" y="111.7" width="4.9" height="1" fill="#000"/>
<rect x="335.4" y="116.7" width="4.9" height="1" fill="#000"/>
<polygon points="292.8,134 286.7,134 283.7,131 283.7,125 288.8,125 288.8,125 292.8,129 292.8,129" fill="#fff"/>
<rect x="288.6" y="129" width="0.9" height="5" fill="#000"/>
<circle cx="286.8" cy="131.1" r="2.5" fill="#fff" stroke="#000" stroke-width="1"/>
<polygon points="351,138.7 411.1,138.7 411.1,199.7 355.5,199.7 351,195.2" fill="#000"/>
<rect x="358.8" y="141.1" width="44.6" height="4.9" fill="#fff"/>
<rect x="358.8" y="192.7" width="44.6" height="5.3" fill="#fff"/>
<rect x="352.4" y="147" width="5.4" height="44.7" fill="#fff"/>
<rect x="404.4" y="147" width="4.9" height="44.7" fill="#fff"/>
<rect x="357.8" y="146" width="46.6" height="46.7" fill="#000"/>
<rect x="369" y="141.1" width="1" height="4.9" fill="#000"/>
<rect x="378" y="141.1" width="1" height="4.9" fill="#000"/>
<rect x="387" y="141.1" width="1" height="4.9" fill="#000"/>
<rect x="369" y="192.7" width="1" height="5.3" fill="#000"/>
<rect x="387" y="192.7" width="1" height="5.3" fill="#000"/>
<rect x="352.4" y="157.7" width="5.4" height="1" fill="#000"/>
<rect x="352.4" y="168.7" width="5.4" height="1" fill="#000"/>
<rect x="352.4" y="179.7" width="5.4" height="1" fill="#000"/>
<rect x="404.4" y="152.7" width="4.9" height="1" fill="#000"/>
<rect x="404.4" y="170.7" width="4.9" height="1" fill="#000"/>
<rect x="404.4" y="181.7" width="4.9" height="1" fill="#000"/>
<polygon points="360.8,198 355.7,198 352.4,194.7 352.4,189.7 357.8,189.7 357.8,189.7 360.8,192.7 360.8,192.7" fill="#fff"/>
<circle cx="355.8" cy="195.1" r="2.5" fill="#fff" stroke="#000" stroke-width="1"/>
<polygon points="345,230 406,230 406,285.5 401.5,290 345,290" fill="#000"/>
<rect x="353.6" y="231.9" width="43.8" height="4.4" fill="#fff"/>
<rect x="353.6" y="282.8" width="43.8" height="4.9" fill="#fff"/>
<rect x="346.9" y="237.3" width="5.7" height="44.5" fill="#fff"/>
<rect x="398.4" y="237.3" width="5.6" height="44.5" fill="#fff"/>
<rect x="352.6" y="236.3" width="45.8" height="46.5" fill="#000"/>
<rect x="356.6" y="231.9" width="1" height="4.4" fill="#000"/>
<rect x="366.3" y="231.9" width="1" height="4.4" fill="#000"/>
<rect x="375.6" y="231.9" width="1" height="4.4" fill="#000"/>
<rect x="386.2" y="231.9" width="1" height="4.4" fill="#000"/>
<rect x="364.3" y="282.8" width="1" height="4.9" fill="#000"/>
<rect x="346.9" y="242" width="5.7" height="1" fill="#000"/>
<rect x="346.9" y="245" width="5.7" height="1" fill="#000"/>
<rect x="346.9" y="248" width="5.7" height="1" fill="#000"/>
<rect x="346.9" y="254.9" width="5.7" height="1" fill="#000"/>
<rect x="346.9" y="277.5" width="5.7" height="1" fill="#000"/>
<rect x="398.4" y="256.9" width="5.6" height="1" fill="#000"/>
<polygon points="393.4,287.7 401.9,287.7 404,285.6 404,277.8 398.4,277.8 398.4,277.8 393.4,282.8 393.4,282.8" fill="#fff"/>
<rect x="392.9" y="282.8" width="0.9" height="4.9" fill="#000"/>
<rect x="398.4" y="277.3" width="5.6" height="0.9" fill="#000"/>
<circle cx="401.2" cy="285.4" r="2.5" fill="#fff" stroke="#000" stroke-width="1"/>
<polygon points="352.5,306.7 408.1,306.7 408.1,368.1 348,368.1 348,311.2" fill="#000"/>
<rect x="356" y="309.1" width="44.4" height="4.9" fill="#fff"/>
<rect x="356" y="360.4" width="44.4" height="4.9" fill="#fff"/>
<rect x="349.7" y="315" width="5.3" height="44.4" fill="#fff"/>
<rect x="401.4" y="315" width="5.6" height="44.4" fill="#fff"/>
<rect x="355" y="314" width="46.4" height="46.4" fill="#000"/>
<rect x="389.5" y="309.1" width="1" height="4.9" fill="#000"/>
<rect x="360" y="360.4" width="1" height="4.9" fill="#000"/>
<rect x="389.5" y="360.4" width="1" height="4.9" fill="#000"/>
<rect x="349.7" y="348.5" width="5.3" height="1" fill="#000"/>
<rect x="401.4" y="326" width="5.6" height="1" fill="#000"/>
<rect x="401.4" y="337.2" width="5.6" height="1" fill="#000"/>
<rect x="401.4" y="346.3" width="5.6" height="1" fill="#000"/>
<polygon points="360,309.1 352,309.1 349.7,311.4 349.7,319 355,319 355,319 360,314 360,314" fill="#fff"/>
<rect x="359.5" y="309.1" width="0.9" height="4.9" fill="#000"/>
<rect x="349.7" y="318.5" width="5.3" height="0.9" fill="#000"/>
<circle cx="352.8" cy="311.3" r="2.5" fill="#fff" stroke="#000" stroke-width="1"/>
<polygon points="232.8,276.7 293.1,276.7 293.1,333.5 288.6,338 232.8,338" fill="#000"/>
<rect x="241" y="279.5" width="44.6" height="4.8" fill="#fff"/>
<rect x="241" y="330.6" width="44.6" height="5.3" fill="#fff"/>
<rect x="234.5" y="285.3" width="5.5" height="44.3" fill="#fff"/>
<rect x="286.6" y="285.3" width="5.5" height="44.3" fill="#fff"/>
<rect x="240" y="284.3" width="46.6" height="46.3" fill="#000"/>
<rect x="244.8" y="279.5" width="1" height="4.8" fill="#000"/>
<rect x="274.8" y="279.5" width="1" height="4.8" fill="#000"/>
<rect x="244.8" y="330.6" width="1" height="5.3" fill="#000"/>
<rect x="274.8" y="330.6" width="1" height="5.3" fill="#000"/>
<rect x="234.5" y="295.7" width="5.5" height="1" fill="#000"/>
<rect x="234.5" y="306.7" width="5.5" height="1" fill="#000"/>
<rect x="234.5" y="316.7" width="5.5" height="1" fill="#000"/>
<rect x="234.5" y="325.7" width="5.5" height="1" fill="#000"/>
<rect x="286.6" y="294.7" width="5.5" height="1" fill="#000"/>
<rect x="286.6" y="303.7" width="5.5" height="1" fill="#000"/>
<rect x="286.6" y="314.2" width="5.5" height="1" fill="#000"/>
<rect x="286.6" y="323.4" width="5.5" height="1" fill="#000"/>
<polygon points="283.6,335.9 288.8,335.9 292.1,332.6 292.1,327.6 286.6,327.6 286.6,327.6 283.6,330.6 283.6,330.6" fill="#fff"/>
<circle cx="288.3" cy="333.4" r="2.5" fill="#fff" stroke="#000" stroke-width="1"/>
<polygon points="361.6,252.9 389.2,252.9 390.2,253.9 390.2,265.8 389.2,266.8 361.6,266.8 360.6,265.8 360.6,253.9" fill="#fff"/>
<text x="361.3" y="265.5" font-size="13.3" textLength="27" lengthAdjust="spacingAndGlyphs">CPU</text>
<text x="660.3" y="44.8" font-size="11.4" textLength="44.8" lengthAdjust="spacingAndGlyphs">MH2308</text>
<rect x="353.1" y="60.8" width="6.7" height="19" fill="#000"/>
<rect x="354.1" y="61.9" width="4.3" height="0.8" fill="#fff"/>
<rect x="354.8" y="63.6" width="2.5" height="2.4" fill="#fff"/>
<rect x="354.1" y="67.1" width="3.6" height="1" fill="#fff"/>
<rect x="354.1" y="73.5" width="3.6" height="1.4" fill="#fff"/>
<rect x="357.7" y="61.9" width="1" height="16.8" fill="#fff"/>
<polygon points="366.6,37.1 396.4,37.1 398.9,39.6 398.9,53 396.4,55.5 366.6,55.5 364.1,53 364.1,39.6" fill="#000"/>
<polygon points="367,38.5 394.9,38.5 396.4,40 396.4,51.5 394.9,53 367,53 365.5,51.5 365.5,40" fill="#fff"/>
<text x="369.2" y="49.8" font-size="13.5" textLength="20.6" lengthAdjust="spacingAndGlyphs">J14</text>
<polygon points="364.1,50.5 369.6,55.5 360.5,62.6 357.4,60.2" fill="#000"/>
<polygon points="365.3,52.2 367.7,53.1 362.1,58.6" fill="#fff"/>
<rect x="473.9" y="55.1" width="19.1" height="6.7" fill="#000"/>
<rect x="478.9" y="56.3" width="1.7" height="4.4" fill="#fff"/>
<rect x="485" y="56.3" width="1.7" height="4.4" fill="#fff"/>
<rect x="486.4" y="56.3" width="5.7" height="4.4" fill="#fff"/>
<rect x="487.5" y="57.4" width="2.3" height="2.2" fill="#000"/>
<polygon points="501.6,29.8 531.4,29.8 533.9,32.3 533.9,46.2 531.4,48.7 501.6,48.7 499.1,46.2 499.1,32.3" fill="#000"/>
<polygon points="502,32.3 529.9,32.3 531.4,33.8 531.4,44.7 529.9,46.2 502,46.2 500.5,44.7 500.5,33.8" fill="#fff"/>
<text x="504.3" y="44.7" font-size="13.5" textLength="22" lengthAdjust="spacingAndGlyphs">J15</text>
<polygon points="499.1,43.7 504.6,48.7 494.6,57.1 491.5,54.7" fill="#000"/>
<polygon points="500.3,45.4 502.7,46.3 496.2,53.1" fill="#fff"/>
<rect x="280" y="228.9" width="6.9" height="19" fill="#000"/>
<rect x="281.1" y="230.1" width="4" height="0.9" fill="#fff"/>
<rect x="282" y="232" width="3" height="2" fill="#fff"/>
<rect x="281" y="235.1" width="5" height="1.8" fill="#fff"/>
<rect x="281" y="241.2" width="5" height="1.8" fill="#fff"/>
<polygon points="294.5,206 324.5,206 327,208.5 327,222.2 324.5,224.7 294.5,224.7 292,222.2 292,208.5" fill="#000"/>
<polygon points="294.9,207.4 323,207.4 324.5,208.9 324.5,220.7 323,222.2 294.9,222.2 293.4,220.7 293.4,208.9" fill="#fff"/>
<text x="297.4" y="219" font-size="13.5" textLength="21.6" lengthAdjust="spacingAndGlyphs">J17</text>
<polygon points="292,219.7 297.5,224.7 287.8,231.6 284.7,229.2" fill="#000"/>
<polygon points="293.2,221.4 295.6,222.3 289.4,227.6" fill="#fff"/>
<rect x="13.9" y="280.1" width="18.8" height="6.8" fill="#000"/>
<rect x="18.9" y="281.3" width="1.7" height="4.5" fill="#fff"/>
<rect x="25" y="281.3" width="1.7" height="4.5" fill="#fff"/>
<rect x="28" y="281.3" width="3.8" height="4.5" fill="#fff"/>
<rect x="29.1" y="282.4" width="2.3" height="2.3" fill="#000"/>
<polygon points="39.8,255 69.5,255 72,257.5 72,271.2 69.5,273.7 39.8,273.7 37.3,271.2 37.3,257.5" fill="#000"/>
<polygon points="40.2,257.5 68,257.5 69.5,259 69.5,269.7 68,271.2 40.2,271.2 38.7,269.7 38.7,259" fill="#fff"/>
<text x="41.2" y="270" font-size="13.5" textLength="22.1" lengthAdjust="spacingAndGlyphs">J10</text>
<polygon points="37.3,268.7 42.8,273.7 33.6,281.8 30.5,279.4" fill="#000"/>
<polygon points="38.5,270.4 40.9,271.3 35.2,277.8" fill="#fff"/>
<rect x="75.9" y="272.2" width="31" height="18.8" fill="#000"/>
<rect x="77" y="273.3" width="28.8" height="16.6" fill="#fff"/>
<rect x="80" y="276.2" width="7" height="10.6" fill="#000"/>
<rect x="87.9" y="276.2" width="6.1" height="10.6" fill="#000"/>
<rect x="96.3" y="276.5" width="5.5" height="9.9" fill="#000"/>
<rect x="97.4" y="277.6" width="3.3" height="7.7" fill="#fff"/>
<rect x="100.9" y="274.3" width="5.1" height="4.2" fill="#000"/>
<rect x="101.9" y="275.3" width="3" height="2.4" fill="#fff"/>
<polygon points="115.6,252.9 145.6,252.9 148.1,255.4 148.1,269.5 145.6,272 115.6,272 113.1,269.5 113.1,255.4" fill="#000"/>
<polygon points="116,255.4 144.1,255.4 145.6,256.9 145.6,268 144.1,269.5 116,269.5 114.5,268 114.5,256.9" fill="#fff"/>
<text x="117.3" y="266.8" font-size="13.5" textLength="27.8" lengthAdjust="spacingAndGlyphs">SW1</text>
<polygon points="113.1,267 118.6,272 107.8,278.9 104.7,276.5" fill="#000"/>
<polygon points="114.3,268.7 116.7,269.6 109.4,274.9" fill="#fff"/>
<rect x="83.1" y="356.1" width="18.9" height="6.7" fill="#000"/>
<rect x="84.1" y="360.3" width="16.9" height="1.5" fill="#fff"/>
<rect x="89.1" y="360.1" width="1" height="2" fill="#000"/>
<rect x="95.7" y="360.1" width="1" height="2" fill="#000"/>
<rect x="96.8" y="357.8" width="3.5" height="2" fill="#fff"/>
<polygon points="110.6,333.9 140.3,333.9 142.8,336.4 142.8,350.2 140.3,352.7 110.6,352.7 108.1,350.2 108.1,336.4" fill="#000"/>
<polygon points="111,335.3 138.8,335.3 140.3,336.8 140.3,348.7 138.8,350.2 111,350.2 109.5,348.7 109.5,336.8" fill="#fff"/>
<text x="112.2" y="347.7" font-size="13.5" textLength="22.1" lengthAdjust="spacingAndGlyphs">J16</text>
<polygon points="108.1,347.7 113.6,352.7 103.3,359.1 100.2,356.7" fill="#000"/>
<polygon points="109.3,349.4 111.7,350.3 104.9,355.1" fill="#fff"/>
<rect x="35.9" y="426" width="18.8" height="6.8" fill="#000"/>
<rect x="36.9" y="430.2" width="16.8" height="1.5" fill="#fff"/>
<rect x="41.9" y="430" width="1" height="2" fill="#000"/>
<rect x="48.5" y="430" width="1" height="2" fill="#000"/>
<rect x="49.6" y="427.7" width="3.5" height="2" fill="#fff"/>
<polygon points="64.6,402 94.3,402 96.8,404.5 96.8,418.2 94.3,420.7 64.6,420.7 62.1,418.2 62.1,404.5" fill="#000"/>
<polygon points="65,403.4 92.8,403.4 94.3,404.9 94.3,416.7 92.8,418.2 65,418.2 63.5,416.7 63.5,404.9" fill="#fff"/>
<text x="65.4" y="414.7" font-size="13.5" textLength="21.7" lengthAdjust="spacingAndGlyphs">J12</text>
<polygon points="62.1,415.7 67.6,420.7 57.3,428.6 54.2,426.2" fill="#000"/>
<polygon points="63.3,417.4 65.7,418.3 58.9,424.6" fill="#fff"/>
<rect x="402.2" y="470.1" width="18.8" height="5.8" fill="#000"/>
<rect x="407.9" y="471.3" width="1.3" height="3.6" fill="#fff"/>
<rect x="413" y="471.3" width="1.8" height="3.6" fill="#fff"/>
<rect x="415.5" y="471.3" width="4.8" height="3.6" fill="#fff"/>
<rect x="416.5" y="472.2" width="2" height="1.8" fill="#000"/>
<polygon points="374.6,445.9 394.3,445.9 396.8,448.4 396.8,462.3 394.3,464.8 374.6,464.8 372.1,462.3 372.1,448.4" fill="#000"/>
<polygon points="376.1,447.3 393.9,447.3 395.4,448.8 395.4,460.8 393.9,462.3 376.1,462.3 374.6,460.8 374.6,448.8" fill="#fff"/>
<text x="375.3" y="459.7" font-size="13.5" textLength="13.5" lengthAdjust="spacingAndGlyphs">J4</text>
<polygon points="396.8,459.8 391.3,464.8 401.2,472.1 404.3,469.7" fill="#000"/>
<polygon points="395.6,461.5 393.2,462.4 399.6,468.1" fill="#fff"/>
<rect x="672" y="390" width="19" height="6.8" fill="#000"/>
<rect x="677.7" y="391.1" width="1.7" height="4.6" fill="#fff"/>
<rect x="683.3" y="391.1" width="1.2" height="4.6" fill="#fff"/>
<rect x="685" y="391.1" width="5.2" height="4.6" fill="#fff"/>
<rect x="686.2" y="392.2" width="2.8" height="2.4" fill="#000"/>
<polygon points="667.6,356.2 696.5,356.2 699,358.7 699,372.3 696.5,374.8 667.6,374.8 665.1,372.3 665.1,358.7" fill="#000"/>
<polygon points="669.1,358.7 696.1,358.7 697.6,360.2 697.6,371.9 696.1,373.4 669.1,373.4 667.6,371.9 667.6,360.2" fill="#fff"/>
<text x="669.4" y="368.9" font-size="13.5" textLength="21.9" lengthAdjust="spacingAndGlyphs">J13</text>
<polygon points="680.2,390.5 682.8,390.5 683,382.5 684.8,373.9 678.4,373.9 680,382.5" fill="#000"/>
<polygon points="681.5,380.5 683.2,373.2 680,373.2" fill="#fff"/>
<rect x="727.2" y="383.7" width="6.8" height="18.8" fill="#000"/>
<rect x="728.2" y="384.8" width="4.4" height="0.8" fill="#fff"/>
<rect x="728.9" y="386.5" width="2.5" height="2.4" fill="#fff"/>
<rect x="728.2" y="390" width="3.6" height="1" fill="#fff"/>
<rect x="728.2" y="396.4" width="3.6" height="1.4" fill="#fff"/>
<rect x="731.9" y="384.8" width="1" height="16.6" fill="#fff"/>
<polygon points="720.6,350.9 741.5,350.9 744,353.4 744,367 741.5,369.5 720.6,369.5 718.1,367 718.1,353.4" fill="#000"/>
<polygon points="722.1,352.3 741.1,352.3 742.6,353.8 742.6,365.5 741.1,367 722.1,367 720.6,365.5 720.6,353.8" fill="#fff"/>
<text x="723.2" y="363" font-size="13.5" textLength="13.7" lengthAdjust="spacingAndGlyphs">J3</text>
<polygon points="729.5,384.2 732.1,384.2 732.3,376.2 734.1,368.6 727.7,368.6 729.3,376.2" fill="#000"/>
<polygon points="730.8,374.2 732.5,367.9 729.3,367.9" fill="#fff"/>
<rect x="745.1" y="461.9" width="26" height="7.1" fill="#000"/>
<rect x="746.2" y="463.3" width="1.4" height="4.5" fill="#fff"/>
<rect x="751.5" y="463.3" width="1.2" height="4.5" fill="#fff"/>
<rect x="757.8" y="463.3" width="1" height="4.5" fill="#fff"/>
<rect x="764.1" y="463.3" width="1" height="4.5" fill="#fff"/>
<rect x="769" y="463.3" width="0.8" height="4.5" fill="#fff"/>
<rect x="765.9" y="465" width="2.2" height="2.2" fill="#fff"/>
<polygon points="719.8,438.3 739,438.3 741.5,440.8 741.5,452.9 739,455.4 719.8,455.4 717.3,452.9 717.3,440.8" fill="#000"/>
<polygon points="721.3,439.7 738.6,439.7 740.1,441.2 740.1,451.4 738.6,452.9 721.3,452.9 719.8,451.4 719.8,441.2" fill="#fff"/>
<text x="721.5" y="450.9" font-size="13.5" textLength="15.1" lengthAdjust="spacingAndGlyphs">J1</text>
<polygon points="741.5,450.4 736,455.4 744.7,464.1 747.8,461.7" fill="#000"/>
<polygon points="740.3,452.1 737.9,453 743.1,460.1" fill="#fff"/>
<rect x="757" y="415" width="24.5" height="37" fill="#000"/>
<rect x="781" y="411" width="3.7" height="45" fill="#000"/>
<rect x="784.5" y="408" width="3" height="50.5" fill="#000"/>
<rect x="754" y="422" width="3.5" height="23.5" fill="#000"/>
<rect x="750" y="424" width="4.5" height="8.5" fill="#000"/>
<rect x="751" y="425" width="2.8" height="6.5" fill="#fff"/>
<rect x="750" y="435.5" width="4.5" height="8.5" fill="#000"/>
<rect x="751" y="436.5" width="2.8" height="6.5" fill="#fff"/>
<rect x="755.7" y="431" width="1" height="5" fill="#fff"/>
<rect x="631.9" y="486.9" width="112" height="24" fill="#000"/>
<rect x="632.9" y="487.9" width="110" height="22" fill="#fff"/>
<rect x="634.8" y="490" width="4.6" height="1.4" fill="#000"/>
<rect x="633.2" y="491.2" width="7.8" height="1.7" fill="#000"/>
<rect x="635.2" y="492.8" width="3.8" height="2.2" fill="#000"/>
<rect x="633.6" y="497" width="6.9" height="2.8" fill="#000"/>
<rect x="643.96" y="490" width="4.6" height="1.4" fill="#000"/>
<rect x="642.36" y="491.2" width="7.8" height="1.7" fill="#000"/>
<rect x="644.36" y="492.8" width="3.8" height="2.2" fill="#000"/>
<rect x="642.76" y="497" width="6.9" height="2.8" fill="#000"/>
<rect x="653.12" y="490" width="4.6" height="1.4" fill="#000"/>
<rect x="651.52" y="491.2" width="7.8" height="1.7" fill="#000"/>
<rect x="653.52" y="492.8" width="3.8" height="2.2" fill="#000"/>
<rect x="651.92" y="497" width="6.9" height="2.8" fill="#000"/>
<rect x="662.28" y="490" width="4.6" height="1.4" fill="#000"/>
<rect x="660.68" y="491.2" width="7.8" height="1.7" fill="#000"/>
<rect x="662.68" y="492.8" width="3.8" height="2.2" fill="#000"/>
<rect x="661.08" y="497" width="6.9" height="2.8" fill="#000"/>
<rect x="671.44" y="490" width="4.6" height="1.4" fill="#000"/>
<rect x="669.84" y="491.2" width="7.8" height="1.7" fill="#000"/>
<rect x="671.84" y="492.8" width="3.8" height="2.2" fill="#000"/>
<rect x="670.24" y="497" width="6.9" height="2.8" fill="#000"/>
<rect x="680.6" y="490" width="4.6" height="1.4" fill="#000"/>
<rect x="679" y="491.2" width="7.8" height="1.7" fill="#000"/>
<rect x="681" y="492.8" width="3.8" height="2.2" fill="#000"/>
<rect x="679.4" y="497" width="6.9" height="2.8" fill="#000"/>
<rect x="689.76" y="490" width="4.6" height="1.4" fill="#000"/>
<rect x="688.16" y="491.2" width="7.8" height="1.7" fill="#000"/>
<rect x="690.16" y="492.8" width="3.8" height="2.2" fill="#000"/>
<rect x="688.56" y="497" width="6.9" height="2.8" fill="#000"/>
<rect x="698.92" y="490" width="4.6" height="1.4" fill="#000"/>
<rect x="697.32" y="491.2" width="7.8" height="1.7" fill="#000"/>
<rect x="699.32" y="492.8" width="3.8" height="2.2" fill="#000"/>
<rect x="697.72" y="497" width="6.9" height="2.8" fill="#000"/>
<rect x="708.08" y="490" width="4.6" height="1.4" fill="#000"/>
<rect x="706.48" y="491.2" width="7.8" height="1.7" fill="#000"/>
<rect x="708.48" y="492.8" width="3.8" height="2.2" fill="#000"/>
<rect x="706.88" y="497" width="6.9" height="2.8" fill="#000"/>
<rect x="717.24" y="490" width="4.6" height="1.4" fill="#000"/>
<rect x="715.64" y="491.2" width="7.8" height="1.7" fill="#000"/>
<rect x="717.64" y="492.8" width="3.8" height="2.2" fill="#000"/>
<rect x="716.04" y="497" width="6.9" height="2.8" fill="#000"/>
<rect x="726.4" y="490" width="4.6" height="1.4" fill="#000"/>
<rect x="724.8" y="491.2" width="7.8" height="1.7" fill="#000"/>
<rect x="726.8" y="492.8" width="3.8" height="2.2" fill="#000"/>
<rect x="725.2" y="497" width="6.9" height="2.8" fill="#000"/>
<rect x="735.56" y="490" width="4.6" height="1.4" fill="#000"/>
<rect x="733.96" y="491.2" width="7.8" height="1.7" fill="#000"/>
<rect x="735.96" y="492.8" width="3.8" height="2.2" fill="#000"/>
<rect x="734.36" y="497" width="6.9" height="2.8" fill="#000"/>
<rect x="632.9" y="494.5" width="110" height="0.9" fill="#000"/>
<rect x="637.1" y="501.2" width="7.2" height="6.7" fill="#000"/>
<rect x="638.2" y="502.3" width="5" height="4.5" fill="#fff"/>
<rect x="646.5" y="501.2" width="7.2" height="6.7" fill="#000"/>
<rect x="647.6" y="502.3" width="5" height="4.5" fill="#fff"/>
<rect x="655.9" y="501.2" width="7.2" height="6.7" fill="#000"/>
<rect x="657" y="502.3" width="5" height="4.5" fill="#fff"/>
<rect x="665.3" y="501.2" width="7.2" height="6.7" fill="#000"/>
<rect x="666.4" y="502.3" width="5" height="4.5" fill="#fff"/>
<rect x="674.7" y="501.2" width="7.2" height="6.7" fill="#000"/>
<rect x="675.8" y="502.3" width="5" height="4.5" fill="#fff"/>
<rect x="684.1" y="501.2" width="7.2" height="6.7" fill="#000"/>
<rect x="685.2" y="502.3" width="5" height="4.5" fill="#fff"/>
<rect x="693.5" y="501.2" width="7.2" height="6.7" fill="#000"/>
<rect x="694.6" y="502.3" width="5" height="4.5" fill="#fff"/>
<rect x="702.9" y="501.2" width="7.2" height="6.7" fill="#000"/>
<rect x="704" y="502.3" width="5" height="4.5" fill="#fff"/>
<rect x="712.3" y="501.2" width="7.2" height="6.7" fill="#000"/>
<rect x="713.4" y="502.3" width="5" height="4.5" fill="#fff"/>
<rect x="721.7" y="501.2" width="7.2" height="6.7" fill="#000"/>
<rect x="722.8" y="502.3" width="5" height="4.5" fill="#fff"/>
<rect x="731.1" y="501.2" width="7.2" height="6.7" fill="#000"/>
<rect x="732.2" y="502.3" width="5" height="4.5" fill="#fff"/>
<rect x="631.5" y="502.6" width="1.6" height="3" fill="#fff"/>
<rect x="632.4" y="501.8" width="1.6" height="1" fill="#000"/>
<rect x="632.4" y="505.6" width="1.6" height="1" fill="#000"/>
<rect x="742.8" y="502.6" width="1.6" height="3" fill="#fff"/>
<rect x="741.8" y="501.8" width="1.6" height="1" fill="#000"/>
<rect x="741.8" y="505.6" width="1.6" height="1" fill="#000"/>
</svg>
</body>
</html>
